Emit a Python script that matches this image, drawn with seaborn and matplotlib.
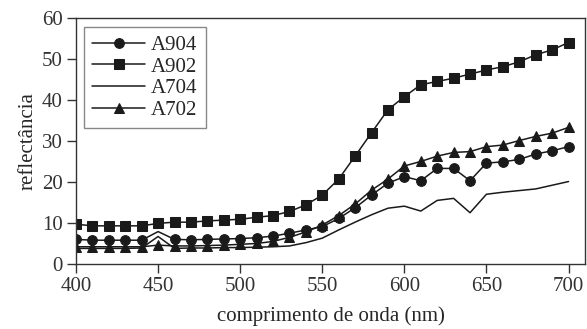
import matplotlib
matplotlib.use('Agg')
import matplotlib.pyplot as plt
import seaborn as sns
import numpy as np
import pandas as pd

# wavelength grid (nm)
wavelength = list(range(400, 701, 10))

a904 = [6.0, 5.8, 5.8, 5.8, 5.8, 7.9, 6.0, 5.9, 6.0, 6.1, 6.2, 6.4, 6.8, 7.5, 8.3,
        9.1, 11.1, 13.7, 16.8, 19.7, 21.3, 20.3, 23.3, 23.3, 20.3, 24.6, 24.9,
        25.5, 26.8, 27.6, 28.6]
a902 = [9.7, 9.3, 9.3, 9.3, 9.3, 9.9, 10.2, 10.2, 10.5, 10.7, 10.9, 11.4, 11.8,
        12.8, 14.4, 16.8, 20.7, 26.3, 32.0, 37.6, 40.8, 43.7, 44.5, 45.3, 46.3,
        47.3, 48.1, 49.3, 51.0, 52.2, 54.0]
a704 = [3.8, 3.8, 3.8, 3.8, 3.9, 6.7, 3.8, 3.9, 3.9, 4.0, 4.0, 4.1, 4.2, 4.4,
        5.2, 6.3, 8.3, 10.2, 12.0, 13.6, 14.1, 12.9, 15.5, 16.0, 12.5, 17.0,
        17.5, 17.9, 18.3, 19.2, 20.1]
a702 = [4.2, 4.2, 4.2, 4.2, 4.2, 4.6, 4.4, 4.4, 4.5, 4.6, 4.8, 5.0, 5.5, 6.5,
        7.8, 9.5, 11.8, 14.6, 18.0, 20.7, 23.9, 25.0, 26.3, 27.2, 27.4, 28.6,
        29.0, 30.1, 31.1, 31.9, 33.3]

series = {'A904': a904, 'A902': a902, 'A704': a704, 'A702': a702}
df = pd.DataFrame({'nm': wavelength, **series})

sns.set_theme(style='ticks')
plt.rcParams['font.family'] = ['Liberation Serif', 'DejaVu Serif']
plt.rcParams['axes.edgecolor'] = '#333333'
plt.rcParams['xtick.color'] = '#333333'
plt.rcParams['ytick.color'] = '#333333'

fig = plt.figure(figsize=(5.87, 3.29), dpi=100)
ax = fig.add_axes([0.1295, 0.1976, 0.867, 0.748])

styles = {
    'A904': dict(marker='o', markersize=7, markevery=[i for i in range(len(wavelength)) if i != 5]),
    'A902': dict(marker='s', markersize=6.5),
    'A704': dict(marker=None),
    'A702': dict(marker='^', markersize=7.5),
}

for name in ['A904', 'A902', 'A704', 'A702']:
    sns.lineplot(data=df, x='nm', y=name, ax=ax, color='#1a1a1a', linewidth=1.1,
                 label=name, markeredgecolor='#1a1a1a', **styles[name])

ax.set_xlim(400, 710)
ax.set_ylim(0, 60)
ax.set_xticks(range(400, 701, 50))
ax.set_yticks(range(0, 61, 10))
ax.tick_params(axis='both', direction='out', length=6.5, width=1, labelsize=15, pad=3)
for side in ['top', 'right', 'left', 'bottom']:
    ax.spines[side].set_visible(True)
    ax.spines[side].set_linewidth(1)

ax.set_xlabel('comprimento de onda (nm)', fontsize=15, labelpad=7)
ax.set_ylabel('reflectância', fontsize=15, labelpad=3)

leg = ax.legend(loc='upper left', bbox_to_anchor=(0.016, 0.963), borderaxespad=0,
                fontsize=15, handlelength=2.5, labelspacing=0.1, handletextpad=0.3,
                borderpad=0.4, fancybox=False, framealpha=1, edgecolor='#888888')
leg.get_frame().set_linewidth(1)

fig.savefig('out.png', dpi=100)
